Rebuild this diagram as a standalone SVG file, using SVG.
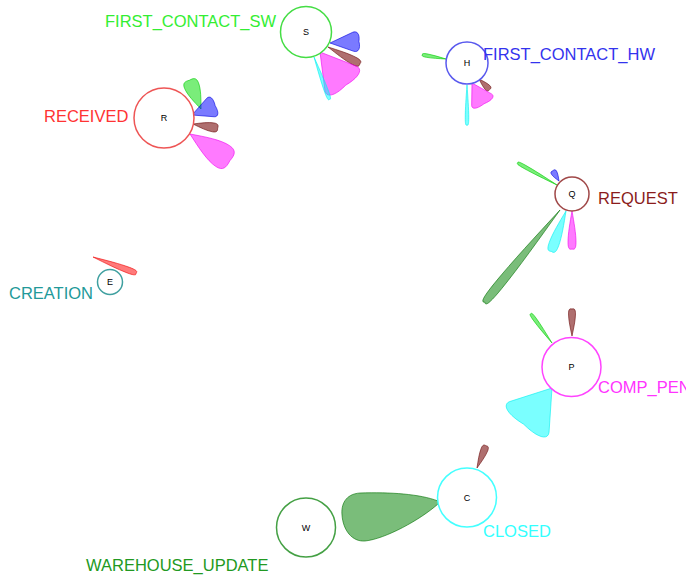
<svg xmlns="http://www.w3.org/2000/svg" xmlns:xlink="http://www.w3.org/1999/xlink" width="686" height="578" viewBox="0 0 686 578">
<style>
.node{fill:#fff;stroke-width:1.5}
.ltr{font-family:"Liberation Sans",Arial,sans-serif;font-size:9px;fill:#000;text-anchor:middle}
.lbl{font-family:"Liberation Sans",Arial,sans-serif;font-size:16.5px}
.p{stroke-width:1;fill-opacity:0.52;stroke-opacity:0.6}
.green{fill:#00dd00;stroke:#00cc00}
.blue{fill:#0000ff;stroke:#0000dd}
.brown{fill:#7a0f0f;stroke:#6a0a0a;fill-opacity:0.6}
.mag{fill:#ff00ff;stroke:#ee00ee}
.cyan{fill:#00ffff;stroke:#00eeee}
.dgreen{fill:#008000;stroke:#007000}
.red{fill:#ff0000;stroke:#ee0000}
</style>
<defs>
<path id="tear" vector-effect="non-scaling-stroke" d="M0,0 C0.3,-0.25 0.6,-0.5 0.82,-0.5 C1,-0.5 1.02,-0.3 1,0 C1.02,0.3 1,0.5 0.82,0.5 C0.6,0.5 0.3,0.25 0,0Z"/>
<path id="fan" vector-effect="non-scaling-stroke" d="M0,0 L0.8,-0.5 C0.95,-0.58 1.05,-0.4 1,0 C1.05,0.4 0.95,0.58 0.8,0.5 Z"/>
</defs>
<g id="connectors">
<!-- S -->
<use xlink:href="#fan" class="p blue" transform="translate(330,43) rotate(-3) scale(29,19)"/>
<use xlink:href="#tear" class="p brown" transform="translate(328,47) rotate(28) scale(36,8)"/>
<use xlink:href="#fan" class="p mag" transform="translate(320,52) rotate(52) scale(42,40)"/>
<use xlink:href="#tear" class="p cyan" transform="translate(314,57) rotate(70) scale(45,4)"/>
<!-- H -->
<use xlink:href="#tear" class="p green" transform="translate(446,59) rotate(190) scale(24,3.5)"/>
<use xlink:href="#tear" class="p brown" transform="translate(479,79) rotate(45) scale(15,6)"/>
<use xlink:href="#fan" class="p mag" transform="translate(472,83) rotate(60) scale(24,23)"/>
<use xlink:href="#tear" class="p cyan" transform="translate(467,85) rotate(90) scale(40,3.5)"/>
<!-- R -->
<use xlink:href="#tear" class="p green" transform="translate(201,109) rotate(248) scale(31,15)"/>
<use xlink:href="#fan" class="p blue" transform="translate(192,115) rotate(-22) scale(25,20)"/>
<use xlink:href="#tear" class="p brown" transform="translate(193,124) rotate(9.5) scale(25,9)"/>
<use xlink:href="#tear" class="p mag" transform="translate(190,134) rotate(34) scale(48,25)"/>
<!-- Q -->
<use xlink:href="#tear" class="p green" transform="translate(557,185) rotate(209.4) scale(45,3.5)"/>
<use xlink:href="#tear" class="p blue" transform="translate(559,181) rotate(239) scale(12,6)"/>
<use xlink:href="#tear" class="p dgreen" transform="translate(560,210) rotate(129.2) scale(119,9)"/>
<use xlink:href="#tear" class="p cyan" transform="translate(566,211) rotate(110) scale(43,10)"/>
<use xlink:href="#tear" class="p mag" transform="translate(572,211) rotate(90) scale(38,8)"/>
<!-- E -->
<use xlink:href="#tear" class="p red" transform="translate(93,257) rotate(20.4) scale(46,6)"/>
<!-- P -->
<use xlink:href="#tear" class="p green" transform="translate(552,343) rotate(234) scale(36,3.5)"/>
<use xlink:href="#tear" class="p brown" transform="translate(572,336) rotate(-90) scale(27,7)"/>
<use xlink:href="#fan" class="p cyan" transform="translate(552,388) rotate(128) scale(46,50)"/>
<!-- C -->
<use xlink:href="#tear" class="p brown" transform="translate(477,468) rotate(-68) scale(24,7)"/>
<path class="p dgreen" d="M438,501 C420,494 390,492 360,493 C345,494 341,505 342,515 C343,530 352,542 365,541 C385,539 420,520 438,504 Z"/>
</g>
<g id="node-S">
<circle class="node" cx="306" cy="32" r="25.5" stroke="#44dd44"/>
<text class="ltr" x="306" y="35">S</text>
<text class="lbl" x="105" y="27" fill="#33ee33">FIRST_CONTACT_SW</text>
</g>
<g id="node-H">
<circle class="node" cx="467" cy="63" r="21" stroke="#5a5aee"/>
<text class="ltr" x="467" y="66">H</text>
<text class="lbl" x="483" y="60" fill="#3333ee">FIRST_CONTACT_HW</text>
</g>
<g id="node-R">
<circle class="node" cx="164" cy="118" r="30" stroke="#ee5555"/>
<text class="ltr" x="164" y="121">R</text>
<text class="lbl" x="44" y="122" fill="#ff3333">RECEIVED</text>
</g>
<g id="node-Q">
<circle class="node" cx="572" cy="194" r="17" stroke="#a04848"/>
<text class="ltr" x="572" y="197">Q</text>
<text class="lbl" x="598" y="204" fill="#8b1c1c">REQUEST</text>
</g>
<g id="node-E">
<circle class="node" cx="110" cy="282" r="12.5" stroke="#40a0a0"/>
<text class="ltr" x="110" y="285">E</text>
<text class="lbl" x="9" y="299" fill="#229999">CREATION</text>
</g>
<g id="node-P">
<circle class="node" cx="571.5" cy="367" r="29.5" stroke="#ff44ff"/>
<text class="ltr" x="571.5" y="370">P</text>
<text class="lbl" x="598" y="393" fill="#ff33ff">COMP_PENDING</text>
</g>
<g id="node-C">
<circle class="node" cx="467" cy="497.5" r="29.5" stroke="#44ffff"/>
<text class="ltr" x="467" y="500.5">C</text>
<text class="lbl" x="483" y="537" fill="#33ffff">CLOSED</text>
</g>
<g id="node-W">
<circle class="node" cx="306" cy="527.5" r="29.5" stroke="#44a044"/>
<text class="ltr" x="306" y="530.5">W</text>
<text class="lbl" x="86" y="571" fill="#229922">WAREHOUSE_UPDATE</text>
</g>
</svg>
